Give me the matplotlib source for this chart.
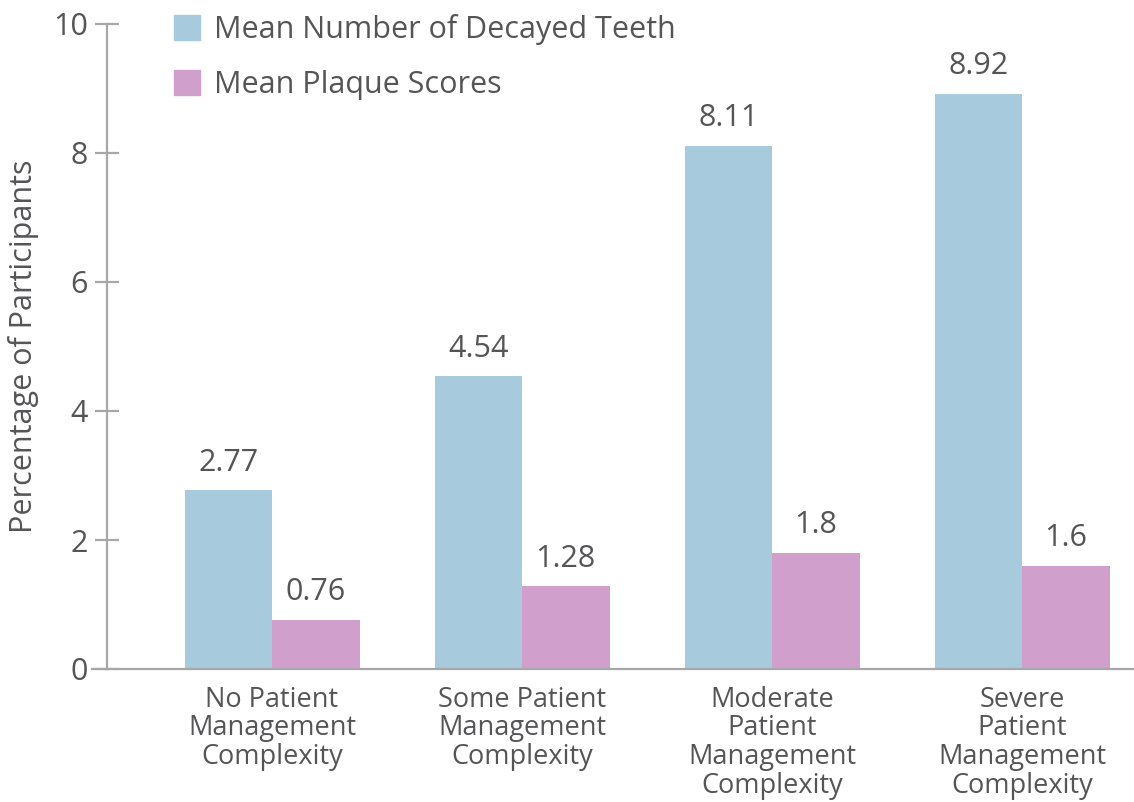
import numpy as np
import matplotlib.pyplot as plt
from matplotlib.patches import Patch

plt.rcParams['font.family'] = ['Open Sans', 'DejaVu Sans']

categories = ['No Patient\nManagement\nComplexity',
              'Some Patient\nManagement\nComplexity',
              'Moderate\nPatient\nManagement\nComplexity',
              'Severe\nPatient\nManagement\nComplexity']
decayed = [2.77, 4.54, 8.11, 8.92]
plaque = [0.76, 1.28, 1.8, 1.6]
series_names = ['Mean Number of Decayed Teeth', 'Mean Plaque Scores']

blue = '#a8cadd'
pink = '#d19fcb'
grey = '#a7a7aa'
text_c = '#555557'

W, H = 1134, 802
fig = plt.figure(figsize=(W / 100, H / 100), dpi=100)
ax = fig.add_axes([92 / W, 133 / H, 1 - 92 / W, 645 / H])

x = np.arange(len(categories))
w = 0.35
b1 = ax.bar(x - w / 2, decayed, w, color=blue, zorder=2)
b2 = ax.bar(x + w / 2, plaque, w, color=pink, zorder=2)

for bars, vals in ((b1, decayed), (b2, plaque)):
    for r, v in zip(bars, vals):
        ax.annotate(f'{v:g}', (r.get_x() + r.get_width() / 2, v),
                    xytext=(0, 9), textcoords='offset points',
                    ha='center', va='bottom', fontsize=22, color=text_c)

ax.set_xlim(-0.72, 3.448)
ax.set_ylim(0, 10)
ax.set_yticks([0, 2, 4, 6, 8, 10])
ax.set_xticks(x)
ax.set_xticklabels(categories, fontsize=19.5, color=text_c, linespacing=1.03, va='top')

for s in ('top', 'right'):
    ax.spines[s].set_visible(False)
ax.spines['left'].set_position(('data', -0.66))
for s in ('left', 'bottom'):
    ax.spines[s].set_color(grey)
    ax.spines[s].set_linewidth(1.6)
    ax.spines[s].set_zorder(3)

ax.tick_params(axis='y', direction='inout', length=17, width=1.6, color=grey,
               labelsize=22, labelcolor=text_c, pad=5)
ax.tick_params(axis='x', length=0, pad=12)

ax.set_ylabel('Percentage of Participants', fontsize=22, color=text_c, labelpad=10)

handles = [Patch(color=blue), Patch(color=pink)]
ax.legend(handles, series_names, loc='upper left',
          bbox_to_anchor=(174 / W, 1 - 14 / H), bbox_transform=fig.transFigure,
          frameon=False, fontsize=22, labelcolor=text_c, borderpad=0,
          borderaxespad=0, handlelength=0.85, handleheight=0.85,
          handletextpad=0.45, labelspacing=0.82)

fig.savefig('out.png', dpi=100)
